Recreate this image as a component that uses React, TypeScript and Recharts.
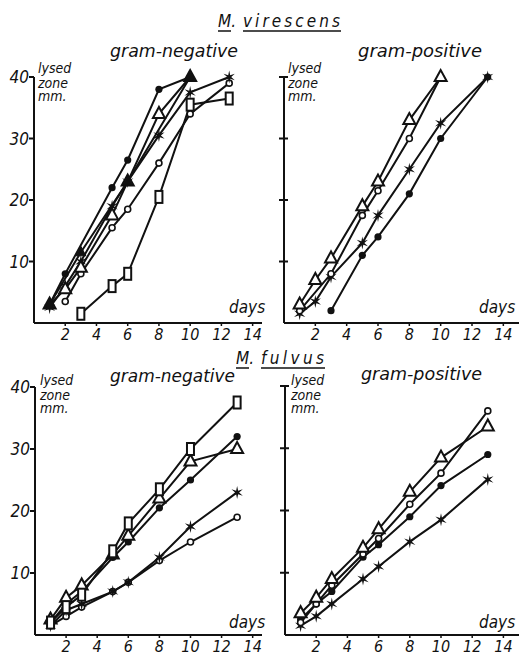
import React from 'react';
import { ScatterChart, Scatter, XAxis, YAxis } from 'recharts';

// [day, lysed zone mm]
const virNegDot: [number, number][] = [[1, 3], [2, 8], [5, 22], [6, 26.5], [8, 38], [10, 40]];
const virNegTriFilled: [number, number][] = [[1, 3], [3, 11.5], [6, 23], [10, 40]];
const virNegTri: [number, number][] = [[1, 3], [2, 5.5], [3, 9], [5, 17.5], [6, 23], [8, 34], [10, 40]];
const virNegStar: [number, number][] = [[1, 2.5], [2, 6], [3, 10], [5, 19], [6, 23], [8, 30.5], [10, 37.5], [12.5, 40]];
const virNegRing: [number, number][] = [[2, 3.5], [3, 8], [5, 15.5], [6, 18.5], [8, 26], [10, 34], [12.5, 39]];
const virNegBox: [number, number][] = [[3, 1.5], [5, 6], [6, 8], [8, 20.5], [10, 35.5], [12.5, 36.5]];

const virPosTri: [number, number][] = [[1, 3], [2, 7], [3, 10.5], [5, 19], [6, 23], [8, 33], [10, 40]];
const virPosRing: [number, number][] = [[1, 2], [3, 8], [5, 17.5], [6, 21.5], [8, 30], [10, 40]];
const virPosStar: [number, number][] = [[1, 1.5], [2, 3.5], [3, 7.5], [5, 13], [6, 17.5], [8, 25], [10, 32.5], [13, 40]];
const virPosDot: [number, number][] = [[3, 2], [5, 11], [6, 14], [8, 21], [10, 30], [13, 40]];

const fulNegBox: [number, number][] = [[1, 2], [2, 4.5], [3, 6.5], [5, 13.5], [6, 18], [8, 23.5], [10, 30], [13, 37.5]];
const fulNegDot: [number, number][] = [[1, 2], [2, 5], [3, 7], [5, 12.5], [6, 15], [8, 20.5], [10, 25], [13, 32]];
const fulNegTri: [number, number][] = [[1, 2.5], [2, 6], [3, 8], [5, 13], [6, 16], [8, 22], [10, 28], [13, 30]];
const fulNegStar: [number, number][] = [[1, 1.5], [2, 4], [3, 5], [5, 7], [6, 8.5], [8, 12.5], [10, 17.5], [13, 23]];
const fulNegRing: [number, number][] = [[1, 1.5], [2, 3], [3, 4.5], [5, 7], [6, 8.5], [8, 12], [10, 15], [13, 19]];

const fulPosRing: [number, number][] = [[1, 2], [2, 5], [3, 8], [5, 13], [6, 15.5], [8, 21], [10, 26], [13, 36]];
const fulPosTri: [number, number][] = [[1, 3.5], [2, 6], [3, 9], [5, 14], [6, 17], [8, 23], [10, 28.5], [13, 33.5]];
const fulPosDot: [number, number][] = [[1, 2.5], [2, 5], [3, 7], [5, 12.5], [6, 14.5], [8, 19], [10, 24], [13, 29]];
const fulPosStar: [number, number][] = [[1, 1.5], [2, 3], [3, 5], [5, 9], [6, 11], [8, 15], [10, 18.5], [13, 25]];

const dayTicks = [2, 4, 6, 8, 10, 12, 14];
const mmTicks = [10, 20, 30, 40];

const INK = '#111';
const FONT = '"DejaVu Sans Condensed", "DejaVu Sans", sans-serif';

const toPts = (arr: [number, number][]) => arr.map(([day, mm]) => ({ day, mm }));

// marker shapes
const Dot = (p: any) => <circle cx={p.cx} cy={p.cy} r={3.6} fill={INK} />;
const Ring = (p: any) => <circle cx={p.cx} cy={p.cy} r={3} fill="#fff" stroke={INK} strokeWidth={1.6} />;
const Tri = (p: any) => (
    <polygon points={`${p.cx},${p.cy - 7} ${p.cx - 6},${p.cy + 4} ${p.cx + 6},${p.cy + 4}`} fill="#fff" stroke={INK} strokeWidth={2} />
);
const TriFilled = (p: any) => (
    <polygon points={`${p.cx},${p.cy - 6} ${p.cx - 5},${p.cy + 3.5} ${p.cx + 5},${p.cy + 3.5}`} fill={INK} stroke={INK} strokeWidth={1} />
);
const Box = (p: any) => <rect x={p.cx - 3.5} y={p.cy - 6} width={7} height={12} fill="#fff" stroke={INK} strokeWidth={2} />;
const Star = (p: any) => {
    const pts: string[] = [];
    for (let i = 0; i < 12; i++) {
        const r = i % 2 === 0 ? 6.5 : 2;
        const a = (Math.PI / 6) * i - Math.PI / 2;
        pts.push(`${p.cx + r * Math.cos(a)},${p.cy + r * Math.sin(a)}`);
    }
    return <polygon points={pts.join(' ')} fill={INK} />;
};

const YTick = ({ x, y, payload, showLabel }: any) => (
    <g>
        <line x1={x - 5} x2={showLabel ? x : x + 4} y1={y} y2={y} stroke={INK} strokeWidth={2} />
        {showLabel && (
            <text x={x - 5} y={y} dy="0.36em" textAnchor="end" fontFamily={FONT} fontStyle="italic" fontSize={17} fill={INK}>
                {payload.value}
            </text>
        )}
    </g>
);

const XTick = ({ x, y, payload }: any) => (
    <g>
        <line x1={x} x2={x} y1={y} y2={y + 3} stroke={INK} strokeWidth={1.5} />
        <text x={x} y={y + 17} textAnchor="middle" fontFamily={FONT} fontStyle="italic" fontSize={16} fill={INK}>
            {payload.value}
        </text>
    </g>
);

interface SeriesDef { data: [number, number][]; shape: any }

interface PanelProps {
    width: number;
    height: number;
    top: number;
    right: number;
    yWidth: number;
    xHeight: number;
    xMax: number;
    showYLabels: boolean;
    series: SeriesDef[];
}

const Panel: React.FC<PanelProps> = ({ width, height, top, right, yWidth, xHeight, xMax, showYLabels, series }) => (
    <ScatterChart width={width} height={height} margin={{ top, right, left: 0, bottom: 0 }} style={{ overflow: 'visible' }}>
        <XAxis
            type="number" dataKey="day" domain={[0, xMax]} ticks={dayTicks} height={xHeight}
            axisLine={{ stroke: INK, strokeWidth: 2 }} tickLine={false} tickSize={0} tickMargin={0}
            tick={<XTick />} allowDataOverflow
        />
        <YAxis
            type="number" dataKey="mm" domain={[0, 40]} ticks={mmTicks} width={yWidth}
            axisLine={{ stroke: INK, strokeWidth: 2 }} tickLine={false} tickSize={0} tickMargin={0}
            tick={<YTick showLabel={showYLabels} />}
        />
        {series.map((s, i) => (
            <Scatter key={i} data={toPts(s.data)} line={{ stroke: INK, strokeWidth: 2 }} lineType="joint"
                shape={s.shape} isAnimationActive={false} />
        ))}
    </ScatterChart>
);

const txt = { fontFamily: FONT, fontStyle: 'italic' as const, fill: INK };

const AxisWords = ({ x, y }: { x: number; y: number }) => (
    <g>
        <text x={x} y={y} fontSize={14} {...txt}>lysed</text>
        <text x={x} y={y + 15} fontSize={14} {...txt}>zone</text>
        <text x={x} y={y + 28} fontSize={14} {...txt}>mm.</text>
    </g>
);

export default function App() {
    return (
        <div style={{ position: 'absolute', left: 0, top: 0, width: 519, height: 652, background: '#fff', overflow: 'hidden' }}>
            <div style={{ position: 'absolute', left: 0, top: 60 }}>
                <Panel width={270} height={300} top={17} right={8} yWidth={34} xHeight={37} xMax={14.6} showYLabels
                    series={[
                        { data: virNegBox, shape: Box },
                        { data: virNegRing, shape: Ring },
                        { data: virNegStar, shape: Star },
                        { data: virNegTri, shape: Tri },
                        { data: virNegTriFilled, shape: TriFilled },
                        { data: virNegDot, shape: Dot },
                    ]} />
            </div>
            <div style={{ position: 'absolute', left: 250, top: 60 }}>
                <Panel width={269} height={300} top={17} right={0} yWidth={34} xHeight={37} xMax={15} showYLabels={false}
                    series={[
                        { data: virPosDot, shape: Dot },
                        { data: virPosStar, shape: Star },
                        { data: virPosRing, shape: Ring },
                        { data: virPosTri, shape: Tri },
                    ]} />
            </div>
            <div style={{ position: 'absolute', left: 0, top: 370 }}>
                <Panel width={270} height={282} top={17} right={8} yWidth={35} xHeight={17} xMax={14.6} showYLabels
                    series={[
                        { data: fulNegRing, shape: Ring },
                        { data: fulNegStar, shape: Star },
                        { data: fulNegDot, shape: Dot },
                        { data: fulNegTri, shape: Tri },
                        { data: fulNegBox, shape: Box },
                    ]} />
            </div>
            <div style={{ position: 'absolute', left: 250, top: 370 }}>
                <Panel width={269} height={282} top={16} right={0} yWidth={35} xHeight={17} xMax={15} showYLabels={false}
                    series={[
                        { data: fulPosStar, shape: Star },
                        { data: fulPosDot, shape: Dot },
                        { data: fulPosRing, shape: Ring },
                        { data: fulPosTri, shape: Tri },
                    ]} />
            </div>

            {/* titles and axis words */}
            <svg width={519} height={652} style={{ position: 'absolute', left: 0, top: 0, pointerEvents: 'none' }}>
                <text x={218} y={27} fontSize={17} {...txt}>M.</text>
                <text x={243} y={27} fontSize={17} textLength={97} lengthAdjust="spacing" {...txt}>virescens</text>
                <line x1={218} x2={231} y1={31} y2={31} stroke={INK} strokeWidth={1.5} />
                <line x1={243} x2={341} y1={31} y2={31} stroke={INK} strokeWidth={1.5} />

                <text x={236} y={364} fontSize={17} {...txt}>M.</text>
                <text x={261} y={364} fontSize={17} textLength={63} lengthAdjust="spacing" {...txt}>fulvus</text>
                <line x1={236} x2={249} y1={368} y2={368} stroke={INK} strokeWidth={1.5} />
                <line x1={261} x2={325} y1={368} y2={368} stroke={INK} strokeWidth={1.5} />

                <text x={110} y={57} fontSize={17} textLength={128} lengthAdjust="spacingAndGlyphs" {...txt}>gram-negative</text>
                <text x={358} y={57} fontSize={17} textLength={124} lengthAdjust="spacingAndGlyphs" {...txt}>gram-positive</text>
                <text x={110} y={382} fontSize={17} textLength={125} lengthAdjust="spacingAndGlyphs" {...txt}>gram-negative</text>
                <text x={361} y={380} fontSize={17} textLength={121} lengthAdjust="spacingAndGlyphs" {...txt}>gram-positive</text>

                <AxisWords x={38} y={73} />
                <AxisWords x={288} y={73} />
                <AxisWords x={40} y={385} />
                <AxisWords x={291} y={385} />

                <text x={229} y={313} fontSize={17} {...txt}>days</text>
                <text x={479} y={313} fontSize={17} {...txt}>days</text>
                <text x={229} y={628} fontSize={17} {...txt}>days</text>
                <text x={479} y={628} fontSize={17} {...txt}>days</text>
            </svg>
        </div>
    );
}
